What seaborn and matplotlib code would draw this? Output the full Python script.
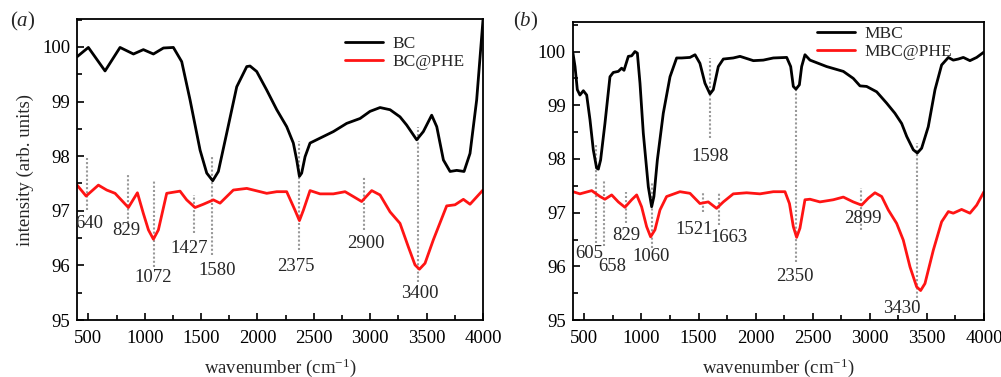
import seaborn as sns
import matplotlib.pyplot as plt
from matplotlib.ticker import MultipleLocator

# panel (a): BC and BC@PHE
wn_bc = [400, 500, 648, 781, 900, 988, 1077, 1166, 1254, 1328, 1402, 1491, 1550, 1603, 1653,
         1727, 1816, 1905, 1934, 1993, 2082, 2171, 2259, 2318, 2348, 2372, 2392, 2422, 2466, 2525,
         2673, 2791, 2910, 2998, 3087, 3176, 3264, 3323, 3412, 3471, 3545, 3590, 3649, 3708, 3767,
         3832, 3885, 3944, 4000]
bc = [99.82, 99.99, 99.56, 99.99, 99.87, 99.95, 99.87, 99.98, 99.99, 99.73, 99.03, 98.11, 97.69, 97.55, 97.72,
      98.42, 99.27, 99.64, 99.65, 99.55, 99.21, 98.85, 98.54, 98.24, 97.93, 97.63, 97.69, 97.99, 98.24, 98.30,
      98.45, 98.60, 98.69, 98.82, 98.89, 98.85, 98.72, 98.57, 98.30, 98.45, 98.75, 98.54, 97.93, 97.72, 97.74,
      97.72, 98.05, 99.03, 100.49]

wn_bcphe = [400, 480, 589, 663, 737, 855, 935, 988, 1033, 1077, 1121, 1195, 1313, 1372, 1446,
            1520, 1609, 1668, 1786, 1905, 2082, 2171, 2259, 2333, 2372, 2407, 2466, 2555, 2673, 2777,
            2851, 2924, 3013, 3087, 3176, 3264, 3338, 3397, 3436, 3486, 3560, 3678, 3752, 3826, 3885, 4000]
bcphe = [97.47, 97.27, 97.47, 97.38, 97.32, 97.06, 97.33, 96.95, 96.65, 96.48, 96.65, 97.32, 97.36, 97.20, 97.06,
         97.12, 97.20, 97.14, 97.38, 97.41, 97.32, 97.35, 97.35, 97.01, 96.82, 97.01, 97.37, 97.31, 97.31, 97.35,
         97.26, 97.17, 97.37, 97.29, 96.98, 96.77, 96.34, 96.01, 95.93, 96.04, 96.47, 97.09, 97.11, 97.21, 97.12, 97.38]

# panel (b): MBC and MBC@PHE
wn_mbc = [400, 418, 438, 461, 491, 520, 549, 578, 607, 622, 642, 680, 724, 753, 797,
          826, 847, 885, 914, 943, 964, 987, 1016, 1060, 1089, 1109, 1139, 1191, 1250, 1308,
          1352, 1425, 1469, 1512, 1556, 1600, 1629, 1673, 1717, 1804, 1863, 1980, 2067, 2155, 2272,
          2307, 2330, 2353, 2383, 2403, 2432, 2476, 2622, 2768, 2855, 2914, 2972, 3060, 3147, 3220,
          3279, 3323, 3381, 3416, 3454, 3512, 3571, 3629, 3688, 3731, 3775, 3819, 3877, 3936, 4000]
mbc = [99.97, 99.72, 99.29, 99.19, 99.27, 99.19, 98.73, 98.17, 97.83, 97.81, 97.98, 98.66, 99.53, 99.61, 99.63,
       99.69, 99.65, 99.91, 99.92, 100.0, 99.97, 99.41, 98.48, 97.48, 97.11, 97.30, 97.98, 98.85, 99.53, 99.88,
       99.88, 99.89, 99.94, 99.78, 99.41, 99.21, 99.29, 99.72, 99.86, 99.88, 99.91, 99.83, 99.84, 99.88, 99.89,
       99.72, 99.35, 99.30, 99.38, 99.72, 99.94, 99.84, 99.72, 99.63, 99.50, 99.36, 99.35, 99.25, 99.04, 98.85,
       98.66, 98.42, 98.17, 98.11, 98.20, 98.60, 99.29, 99.75, 99.89, 99.84, 99.86, 99.89, 99.83, 99.89, 99.99]

wn_mbcphe = [400, 461, 564, 637, 680, 739, 797, 855, 914, 958, 1001, 1045, 1080, 1118, 1162,
             1220, 1337, 1425, 1512, 1585, 1658, 1717, 1804, 1921, 2038, 2155, 2257, 2296, 2330, 2359,
             2388, 2432, 2476, 2563, 2680, 2768, 2855, 2928, 2987, 3045, 3104, 3162, 3235, 3293, 3352,
             3410, 3445, 3483, 3556, 3629, 3688, 3731, 3804, 3877, 3936, 4000]
mbcphe = [97.39, 97.35, 97.41, 97.30, 97.25, 97.33, 97.20, 97.10, 97.24, 97.33, 97.11, 96.74, 96.55, 96.68, 97.05,
          97.30, 97.39, 97.36, 97.17, 97.20, 97.08, 97.20, 97.35, 97.37, 97.35, 97.39, 97.39, 97.17, 96.74, 96.54,
          96.71, 97.24, 97.25, 97.20, 97.24, 97.29, 97.20, 97.14, 97.27, 97.37, 97.30, 97.05, 96.80, 96.49, 95.99,
          95.62, 95.55, 95.68, 96.30, 96.83, 97.02, 96.99, 97.06, 96.99, 97.14, 97.39]

# peak labels: text, dotted line x, line top/bottom, label x/y
peaks_a = ['640', '829', '1072', '1427', '1580', '2375', '2900', '3400']
line_x_a = [492, 855, 1080, 1437, 1594, 2372, 2945, 3427]
line_top_a = [97.96, 97.66, 97.56, 97.29, 98.0, 98.27, 97.63, 98.54]
line_bot_a = [97.01, 96.78, 95.98, 96.59, 96.19, 96.28, 96.65, 95.70]
text_x_a = [512, 835, 1071, 1396, 1644, 2342, 2963, 3436]
text_y_a = [96.76, 96.64, 95.78, 96.31, 95.90, 95.98, 96.40, 95.49]

peaks_b = ['605', '658', '829', '1060', '1521', '1663', '1598', '2350', '2899', '3430']
line_x_b = [604, 672, 861, 1095, 1542, 1679, 1600, 2353, 2923, 3416]
line_top_b = [98.29, 97.58, 97.39, 97.55, 97.36, 97.36, 99.88, 99.32, 97.45, 98.29]
line_bot_b = [96.43, 96.37, 96.80, 96.34, 97.02, 96.77, 98.39, 96.09, 96.68, 95.34]
text_x_b = [543, 745, 864, 1083, 1460, 1769, 1600, 2344, 2937, 3284]
text_y_b = [96.24, 95.99, 96.57, 96.19, 96.68, 96.54, 98.04, 95.81, 96.89, 95.22]

sns.set_style('ticks')
plt.rcParams['font.family'] = ['Liberation Serif', 'DejaVu Serif']
plt.rcParams['mathtext.fontset'] = 'custom'
plt.rcParams['mathtext.rm'] = 'Liberation Serif'
plt.rcParams['mathtext.it'] = 'Liberation Serif:italic'

fig = plt.figure(figsize=(10.01, 3.77), dpi=100)
ax1 = fig.add_axes([0.077, 0.151, 0.4055, 0.7985])
ax2 = fig.add_axes([0.5724, 0.151, 0.4106, 0.7907])


def panel(ax, wn1, y1, lab1, wn2, y2, lab2, peaks, lx, ltop, lbot, tx, ty, ytop, leg_xy):
    sns.lineplot(x=wn1, y=y1, color='black', lw=2.0, label=lab1, estimator=None, ax=ax)
    sns.lineplot(x=wn2, y=y2, color='#ff1414', lw=2.0, label=lab2, estimator=None, ax=ax)
    for i in range(len(peaks)):
        ax.plot([lx[i], lx[i]], [lbot[i], ltop[i]], color='#999999', lw=1.5,
                ls=(0, (1, 1)), zorder=1)
        ax.text(tx[i], ty[i], peaks[i], ha='center', va='center', fontsize=13.5, clip_on=True)
    ax.set_xlim(400, 4000)
    ax.set_ylim(95, ytop)
    ax.set_xticks(range(500, 4001, 500))
    ax.set_yticks(range(95, 101))
    ax.xaxis.set_minor_locator(MultipleLocator(250))
    ax.yaxis.set_minor_locator(MultipleLocator(0.5))
    ax.tick_params(which='both', direction='in', top=False, right=False, width=1.2,
                   labelsize=13.5, colors='black')
    ax.tick_params(which='major', length=5)
    ax.tick_params(which='minor', length=3.5)
    ax.tick_params(axis='x', pad=7)
    ax.tick_params(axis='y', pad=5)
    for s in ax.spines.values():
        s.set_linewidth(1.3)
        s.set_color('black')
    ax.set_xlabel('wavenumber (cm$^{-1}$)', fontsize=13.5, labelpad=7)
    ax.set_ylabel('')
    ax.legend(loc='upper left', bbox_to_anchor=leg_xy, frameon=False, fontsize=12.5,
              handlelength=2.2, handletextpad=0.55, labelspacing=0.12,
              borderpad=0, borderaxespad=0)


panel(ax1, wn_bc, bc, 'BC', wn_bcphe, bcphe, 'BC@PHE',
      peaks_a, line_x_a, line_top_a, line_bot_a, text_x_a, text_y_a, 100.51, (0.66, 0.945))
panel(ax2, wn_mbc, mbc, 'MBC', wn_mbcphe, mbcphe, 'MBC@PHE',
      peaks_b, line_x_b, line_top_b, line_bot_b, text_x_b, text_y_b, 100.55, (0.593, 0.987))

ax1.set_ylabel('intensity (arb. units)', fontsize=13.5, labelpad=6)

fig.text(0.023, 0.942, r'($\mathit{a}$)', fontsize=15, ha='center', va='center')
fig.text(0.525, 0.942, r'($\mathit{b}$)', fontsize=15, ha='center', va='center')

fig.savefig('out.png', dpi=100)
